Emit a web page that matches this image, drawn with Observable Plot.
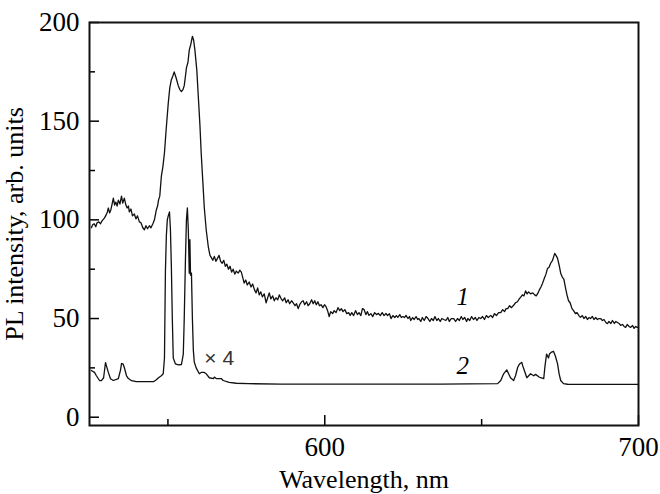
<!DOCTYPE html>
<html>
<head>
<meta charset="utf-8">
<script src="https://cdn.jsdelivr.net/npm/d3@7"></script>
<script src="https://cdn.jsdelivr.net/npm/@observablehq/plot@0.6"></script>
<style>
  html, body { margin: 0; padding: 0; background: #fff; }
</style>
</head>
<body>
<div id="chart"></div>
<script>
// ---- data ----
const xLabel = "Wavelength, nm";
const yLabel = "PL intensity, arb. units";
const xDomain = [525, 700];
const yDomain = [-4.2, 200];
const xMajorTicks = [600, 700];
const xMinorTicks = [550, 650];
const yMajorTicks = [0, 50, 100, 150, 200];
const yMinorTicks = [25, 75, 125, 175];

// curve 1 : [wavelength, intensity]
const curve1 = [
  [525.6,96],[526.0,97.5],[526.5,98],[527.0,96.5],[527.4,98.5],[528.0,99],[528.5,98],[529.0,99.5],[529.8,101],
  [530.3,102.5],[530.7,104],[531.0,106],[531.4,103.5],[531.8,105],[532.2,108],[532.6,111],[533.0,107.5],[533.4,109],
  [533.8,107],[534.2,110],[534.7,108],[535.2,112],[535.6,108.5],[536.1,111],[536.6,107.5],[537.0,106],[537.4,107],
  [537.7,104],[538.2,105.5],[538.7,102],[539.3,103],[539.8,100.5],[540.3,102],[540.9,99],[541.4,98.5],[542.0,96],
  [542.5,95],[543.0,97],[543.5,95.5],[544.1,97],[544.6,96],[545.2,98],[545.7,100],[546.3,105],[546.7,107],[547.0,110],
  [547.4,112],[547.9,122],[548.4,127],[548.9,134],[549.4,145],[550.1,159],[550.6,167],[551.1,171],[551.6,173],
  [552.0,175],[552.6,172],[553.3,168],[553.8,166],[554.3,165],[554.8,166],[555.2,168],[555.6,173],[555.9,177],
  [556.4,180],[556.8,186],[557.3,189],[557.8,193],[558.2,191],[558.6,186],[559.2,176],[559.7,162],[560.2,148],
  [560.6,134],[561.1,120],[561.6,106],[562.2,95],[562.9,86],[563.4,82],[563.8,81],[564.3,79.5],[564.8,81.5],
  [565.3,79],[565.8,80.5],[566.3,82],[566.8,79],[567.3,78],[567.8,79.5],[568.3,76.5],[568.8,77.5],[569.3,75],
  [569.8,76.5],[570.3,73.5],[570.8,75],[571.3,72.5],[571.8,74],[572.4,73],[572.9,74.5],[573.4,73.5],[573.9,70.5],
  [574.3,68],[574.8,69.5],[575.3,67],[575.9,68.5],[576.5,66],[577.0,67.5],[577.6,64.5],[578.1,63],[578.6,65.5],
  [579.1,62],[579.6,63.5],[580.1,61],[580.7,62.5],[581.3,58],[581.8,60.5],[582.3,63],[582.8,60],[583.4,61.5],
  [583.9,59],[584.4,60.5],[585.0,59.5],[585.5,62],[586.1,60],[586.6,59],[587.2,60.5],[587.7,58],[588.3,59.5],
  [588.8,57.5],[589.4,59],[589.9,58],[590.5,56.5],[591.0,57.5],[591.5,55],[592.0,57],[592.6,58.5],[593.1,59],
  [593.6,57],[594.2,58.5],[594.7,56.5],[595.2,57.5],[595.8,59.5],[596.3,57.5],[596.8,59],[597.3,57],[597.8,58.5],
  [598.3,56.5],[598.8,57],[599.4,55.5],[599.9,57],[600.4,56],[600.9,54],[601.4,51],[601.9,53.5],[602.5,52.5],
  [603.0,54],[603.6,53],[604.2,55.5],[604.8,54],[605.3,55],[605.8,53.5],[606.4,54.5],[607.0,52.5],[607.6,53],
  [608.1,51.6],[608.6,53],[609.2,51.5],[609.8,54],[610.4,52],[610.9,53],[611.5,51.5],[612.0,55],[612.5,54.6],
  [613.1,52],[613.6,53.5],[614.1,51.6],[614.7,52.5],[615.3,51],[615.9,53],[616.5,52],[617.1,52.6],[617.7,51.5],
  [618.3,53],[618.9,51.5],[619.5,52.6],[620.0,51.5],[620.6,52.5],[621.1,50],[621.7,51.5],[622.3,50.5],[622.8,51.5],
  [623.3,50.6],[623.9,52],[624.4,50.5],[624.9,51],[625.4,50.5],[625.9,51.6],[626.5,50],[627.0,51],[627.4,49],
  [628.0,50.5],[628.5,49.5],[629.1,51],[629.6,49.5],[630.0,50],[630.6,48.5],[631.1,50.5],[631.7,49],[632.3,51],
  [632.9,50],[633.5,48.5],[634.0,50],[634.6,49],[635.1,51],[635.7,49],[636.2,50],[636.8,48.5],[637.3,50],
  [637.9,49.5],[638.6,49],[639.2,50.5],[639.7,48.5],[640.3,50],[641.1,50],[641.7,48.5],[642.3,50],[642.9,49],
  [643.5,51],[644.0,49.5],[644.6,50.5],[645.2,48.5],[645.6,50],[646.2,49],[646.8,51],[647.4,49.5],[648.0,50.5],
  [648.5,49],[649.1,50.5],[649.7,50],[650.3,51],[650.9,49.5],[651.5,51.5],[652.1,50.5],[652.9,51.6],[653.5,50.5],
  [654.1,52.5],[654.7,51.5],[655.4,53],[656.1,53],[656.7,54.5],[657.3,53.5],[657.8,55],[658.3,55],[658.9,56.5],
  [659.5,55.5],[660.2,56.7],[660.8,58],[661.4,58.5],[662.0,60],[662.4,60.7],[663.0,62],[663.5,61.5],[664.0,64],
  [664.5,62.5],[665.0,63.5],[665.6,62.5],[666.3,63],[666.9,62],[667.4,61.5],[667.9,62.7],[668.4,64.5],[668.9,66],
  [669.4,67.8],[669.9,70],[670.5,72.5],[671.0,75.4],[671.5,76],[672.0,78],[672.6,79.5],[673.0,81.5],[673.3,83],
  [673.7,82],[674.2,80.5],[674.7,77],[675.2,73],[675.7,71],[676.2,70],[676.8,65],[677.2,62],[677.7,59],[678.2,58],
  [678.8,55],[679.3,54],[679.9,52.5],[680.4,53],[681.0,51.5],[681.5,50.6],[682.1,51.5],[682.6,50],[683.2,51],
  [683.7,49.5],[684.2,50.5],[684.7,50],[685.3,51],[685.8,49.5],[686.4,50.5],[686.9,49.5],[687.4,50],[687.9,50],
  [688.5,49],[689.0,49.5],[689.6,48],[690.1,47.4],[690.6,48.5],[691.2,47.5],[691.7,49],[692.3,47.5],[692.8,48.5],
  [693.3,48],[693.8,47.5],[694.3,46.5],[694.9,47],[695.4,46],[695.9,45.5],[696.4,47],[697.0,46],[697.5,45.5],
  [698.1,46.5],[698.6,45],[699.1,46],[699.6,45.5],[700.0,45.5]
];

// curve 2 (x4) : [wavelength, intensity]
const curve2 = [
  [525.6,23.7],[526.6,22.7],[527.2,21],[528.2,18.6],[528.8,18.5],[529.5,20],[530.1,27.7],[530.4,26],[531.0,22.7],
  [531.7,19.5],[532.6,18.6],[534.2,19.6],[534.9,24],[535.2,27.2],[535.7,27],[536.1,25.2],[536.8,21],[537.4,19.6],
  [538.4,18.5],[539.9,18],[543.1,18],[545.4,18],[546.3,19],[547.0,20],[547.9,21],[548.5,22],[548.9,30],[549.2,74],
  [549.5,92],[549.8,100],[550.1,102],[550.5,104],[550.8,95],[551.1,76],[551.4,50],[551.7,30],[552.4,27],[553.3,26.5],
  [554.3,26.7],[554.9,32],[555.2,50],[555.6,81],[555.9,100],[556.2,106],[556.5,95],[556.8,73],[557.0,90],[557.2,72],
  [557.5,73],[557.8,50],[558.1,34],[558.4,28],[559.0,25],[560.0,22],[560.6,22.7],[561.6,22.7],[562.2,22],[563.2,20],
  [564.5,19.6],[564.8,20.3],[565.4,19.6],[567.0,19.6],[567.6,18.6],[569.5,17.6],[571.8,17.2],[575.6,17],[586.1,16.8],
  [637.0,16.8],[655.1,17],[656.1,18.6],[657.0,22],[658.0,24],[658.6,22],[659.2,20],[660.2,18.6],[660.8,21],[661.5,25.3],
  [662.1,27],[662.8,27.8],[663.1,26],[663.4,24.7],[664.4,20],[665.0,21],[665.6,22],[666.6,21],[667.2,21.7],[668.2,20.5],
  [668.8,20],[669.8,19.6],[670.2,26],[670.7,32],[671.0,31],[671.3,30],[671.6,32],[672.3,33],[672.9,33.4],[673.5,31],
  [674.2,27],[674.7,22],[675.2,18.6],[676.1,17],[677.4,16.7],[679.3,16.6],[700.0,16.6]
];

// annotations
const curveLabels = [
  {x: 644, y: 61, text: "1"},
  {x: 644, y: 26, text: "2"}
];
const scaleNote = [{x: 561.6, y: 30, text: "× 4"}];

// ---- chart ----
const serif = "'Liberation Serif', 'Times New Roman', serif";
const toObj = (d) => ({x: d[0], y: d[1]});

const chart = Plot.plot({
  width: 660,
  height: 494,
  marginLeft: 89,
  marginRight: 22,
  marginTop: 22,
  marginBottom: 69,
  x: {domain: xDomain},
  y: {domain: yDomain},
  style: {fontFamily: serif, fontSize: "27px", background: "#fff", color: "#000"},
  marks: [
    // curves
    Plot.line(curve1.map(toObj), {x: "x", y: "y", stroke: "#111", strokeWidth: 1.3}),
    Plot.line(curve2.map(toObj), {x: "x", y: "y", stroke: "#111", strokeWidth: 1.3}),
    // inward ticks
    Plot.axisX(xMajorTicks, {anchor: "bottom", tickSize: 10, dy: -10, tickFormat: () => "", label: null, strokeWidth: 1.5}),
    Plot.axisX(xMinorTicks, {anchor: "bottom", tickSize: 6, dy: -6, tickFormat: () => "", label: null, strokeWidth: 1.5}),
    Plot.axisY(yMajorTicks, {anchor: "left", tickSize: 10, dx: 10, tickFormat: () => "", label: null, strokeWidth: 1.5}),
    Plot.axisY(yMinorTicks, {anchor: "left", tickSize: 6, dx: 6, tickFormat: () => "", label: null, strokeWidth: 1.5}),
    // tick labels
    Plot.axisX(xMajorTicks, {anchor: "bottom", tickSize: 0, tickPadding: 11, label: null, fontSize: 27, fontFamily: serif}),
    Plot.axisY(yMajorTicks, {anchor: "left", tickSize: 0, tickPadding: 10, label: null, fontSize: 27, fontFamily: serif}),
    // axis titles
    Plot.text([xLabel], {frameAnchor: "bottom", dy: 54, text: d => d, fontSize: 26, fontFamily: serif, textAnchor: "middle", lineAnchor: "middle"}),
    Plot.text([yLabel], {frameAnchor: "left", dx: -75, rotate: -90, text: d => d, fontSize: 26, fontFamily: serif, textAnchor: "middle", lineAnchor: "middle"}),
    // annotations
    Plot.text(curveLabels, {x: "x", y: "y", text: "text", fontSize: 25, fontStyle: "italic", fontFamily: serif}),
    Plot.text(scaleNote, {x: "x", y: "y", text: "text", textAnchor: "start", fontSize: 21, fontFamily: "'Liberation Sans', Arial, sans-serif", fill: "#333"}),
    // frame
    Plot.frame({stroke: "#111", strokeWidth: 2})
  ]
});

document.getElementById("chart").appendChild(chart);
</script>
</body>
</html>
